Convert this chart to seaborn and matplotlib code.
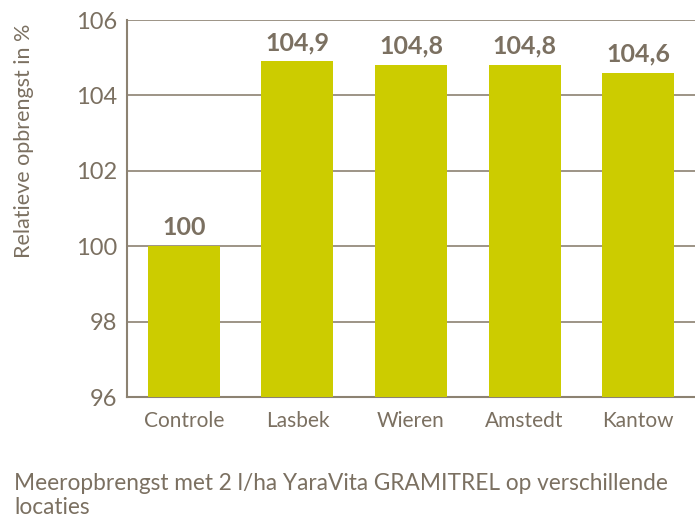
import matplotlib
matplotlib.use("Agg")
import matplotlib.pyplot as plt
import seaborn as sns
import pandas as pd

categories = ["Controle", "Lasbek", "Wieren", "Amstedt", "Kantow"]
values = [100.0, 104.9, 104.8, 104.8, 104.6]
value_labels = ["100", "104,9", "104,8", "104,8", "104,6"]
yticks = [96, 98, 100, 102, 104, 106]

sns.set_theme(style="white")
plt.rcParams["font.family"] = ["Lato", "DejaVu Sans"]

text_col = "#7b7061"
line_col = "#8c8272"
bar_col = "#cccc00"

df = pd.DataFrame({"cat": categories, "val": values})
fig = plt.figure(figsize=(6.95, 5.19), dpi=100)
ax = fig.add_axes([127/695, 1-397/519, 1-127/695, (397-20)/519])
sns.barplot(data=df, x="cat", y="val", color=bar_col, saturation=1, width=0.635,
            ax=ax, zorder=3, linewidth=0)
ax.set_ylim(96, 106)
ax.set_xlim(-0.5, 4.5)
ax.set_yticks(yticks)
ax.set_yticklabels([str(t) for t in yticks], fontsize=17, color=text_col)
ax.yaxis.grid(True, color=line_col, linewidth=1.2, zorder=0)
ax.set_axisbelow(True)
for s in ["top", "right"]:
    ax.spines[s].set_visible(False)
for s in ["left", "bottom"]:
    ax.spines[s].set_color(line_col)
    ax.spines[s].set_linewidth(1.5)
ax.tick_params(axis="both", length=0)
ax.tick_params(axis="y", pad=7)
ax.tick_params(axis="x", pad=10)
for t in ax.get_xticklabels():
    t.set_fontsize(15)
    t.set_color(text_col)
ax.set_xlabel("")
ax.set_ylabel("Relatieve opbrengst in %", fontsize=15.5, color=text_col)
ax.yaxis.set_label_coords(-0.163, 0.68)
for i, (v, lab) in enumerate(zip(values, value_labels)):
    ax.text(i, v + 0.2, lab, ha="center", va="bottom", fontsize=18, fontweight="bold", color=text_col)
fig.text(14/695, 1-483/519, "Meeropbrengst met 2 l/ha YaraVita GRAMITREL op verschillende",
         fontsize=16.3, color=text_col, va="center")
fig.text(14/695, 1-507/519, "locaties", fontsize=16.3, color=text_col, va="center")
fig.savefig("out.png", dpi=100)
